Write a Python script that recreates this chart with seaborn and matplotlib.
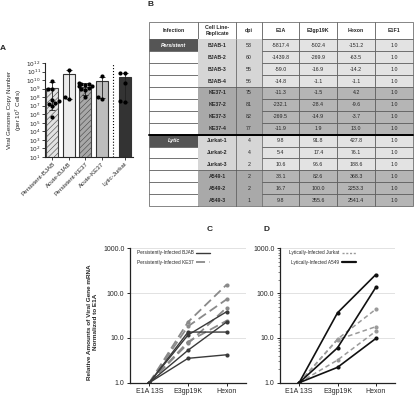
import numpy as np
import pandas as pd
import matplotlib
matplotlib.use("Agg")
import matplotlib.pyplot as plt
from matplotlib.lines import Line2D
import seaborn as sns

sns.set_style("ticks")
plt.rcParams["font.family"] = ["Liberation Sans", "DejaVu Sans"]
plt.rcParams["hatch.linewidth"] = 0.4

# ---- panel A data (log10 copies per 10^7 cells) ----
groups = ["Persistent-BJAB", "Acute-BJAB", "Persistent-KE37", "Acute-KE37", "Lytic-Jurkat"]
group_pos = [0, 1, 2, 3, 4.4]
bar_heights = [1.2e9, 5.0e10, 1.5e9, 8.5e9, 2.5e10]
err_low = [3e6, 6e7, 2e8, 8e7, 3e7]
err_high = [6.5e9, 1.6e11, 5e9, 2.6e10, 6.5e10]
pts_bjab_p = [9.85, 9.0, 8.95, 7.7, 7.55, 7.3, 7.25, 6.95, 5.7]
pts_bjab_a = [11.2, 8.06, 7.75]
pts_ke37_p = [9.7, 9.6, 9.5, 9.4, 9.3, 9.25, 9.1, 9.0, 8.85, 8.05]
pts_ke37_a = [10.45, 8.0, 7.8]
pts_jurkat = [10.8, 10.8, 9.7, 7.5, 7.45]
bar_colors = ["#e2e2e2", "#ececec", "#a8a8a8", "#bdbdbd", "#333333"]
bar_hatch = ["//////", "", "//////", "", ""]

# ---- panel B table ----
col_labels = ["Infection", "Cell Line-\nReplicate", "dpi", "E1A", "E3gp19K", "Hexon", "E1F1"]
infection = ["Persistent", "", "", "", "", "", "", "", "Lytic", "", "", "", "", ""]
cell_lines = ["BJAB-1", "BJAB-2", "BJAB-3", "BJAB-4", "KE37-1", "KE37-2", "KE37-3", "KE37-4",
              "Jurkat-1", "Jurkat-2", "Jurkat-3", "A549-1", "A549-2", "A549-3"]
dpi = [53, 60, 55, 56, 75, 81, 82, 77, 4, 4, 2, 2, 2, 1]
e1a = [-5817.4, -1439.8, -59.0, -14.8, -11.3, -232.1, -269.5, -11.9, 9.8, 5.4, 10.6, 38.1, 16.7, 9.8]
e3gp19k = [-502.4, -269.9, -16.9, -1.1, -1.5, -28.4, -14.9, 1.9, 91.8, 17.4, 96.6, 82.6, 100.0, 355.6]
hexon = [-151.2, -63.5, -14.2, -1.1, 4.2, -9.6, -3.7, 13.0, 427.8, 76.1, 188.6, 368.3, 2253.3, 2541.4]
e1f1 = [1.0] * 14
row_groups = [(0, 3), (4, 7), (8, 10), (11, 13)]
dark_rows = [4, 5, 6, 7, 11, 12, 13]

# ---- panels C / D data (relative to E1A 13S) ----
genes = ["E1A 13S", "E3gp19K", "Hexon"]
bjab_e3 = [11.6, 5.3, 3.5, 13.5]
bjab_hex = [38.5, 22.7, 4.2, 13.5]
ke37_e3 = [7.5, 8.2, 18.1, 22.6]
ke37_hex = [47.5, 24.2, 72.8, 154.7]
jurkat_e3 = [9.4, 3.2, 9.1]
jurkat_hex = [43.7, 14.1, 17.8]
a549_e3 = [2.2, 6.0, 36.3]
a549_hex = [9.7, 134.9, 259.3]

W, H = 419, 403
fig = plt.figure(figsize=(W / 100, H / 100), dpi=100)


def px_axes(x0, y0, x1, y1):
    return fig.add_axes([x0 / W, 1 - y1 / H, (x1 - x0) / W, (y1 - y0) / H])


fs = 4.5

# ================= A =================
axA = px_axes(45, 63, 133, 157)
sns.barplot(x=group_pos, y=bar_heights, native_scale=True, width=0.72, ax=axA,
            color="#cccccc", errorbar=None, edgecolor="#333333", linewidth=0.8)
for p, c, h in zip(axA.patches, bar_colors, bar_hatch):
    p.set_facecolor(c)
    p.set_hatch(h)
    p.set_edgecolor("#444444" if h else "#333333")
axA.set_yscale("log")
axA.set_ylim(10, 1e12)
pts = []
for pos, vals in zip(group_pos, [pts_bjab_p, pts_bjab_a, pts_ke37_p, pts_ke37_a, pts_jurkat]):
    for v in vals:
        pts.append({"pos": pos, "val": 10 ** v})
pts = pd.DataFrame(pts)
axA.errorbar(group_pos, bar_heights,
             yerr=[np.array(bar_heights) - np.array(err_low), np.array(err_high) - np.array(bar_heights)],
             fmt="none", ecolor="#222222", elinewidth=0.6, capsize=2, capthick=0.6, zorder=3)
sns.swarmplot(data=pts, x="pos", y="val", native_scale=True, color="black", size=3.0,
              linewidth=0, ax=axA, zorder=4)
axA.axvline(3.7, ls=":", color="black", lw=0.8)
axA.set_xlim(-0.45, 4.9)
axA.set_ylim(10, 1e12)
axA.set_xticks(group_pos)
axA.set_xticklabels(groups, rotation=45, ha="right", rotation_mode="anchor", fontsize=fs)
decades = list(range(1, 13))
axA.set_yticks([10.0 ** k for k in decades])
axA.set_yticklabels([f"$10^{{{k}}}$" for k in decades], fontsize=fs - 0.3)
axA.yaxis.set_minor_locator(matplotlib.ticker.NullLocator())
axA.set_xlabel("")
axA.set_ylabel("Viral Genome Copy Number\n(per 10$^7$ Cells)", fontsize=fs, labelpad=2)
axA.tick_params(length=2, width=0.6, pad=1)
for s in ["top", "right"]:
    axA.spines[s].set_visible(False)
for s in ["left", "bottom"]:
    axA.spines[s].set_linewidth(0.8)

# ================= B =================
axB = px_axes(149, 21.7, 413, 206)
axB.axis("off")
cell_text = []
cell_colors = []
for i in range(14):
    dark = i in dark_rows
    cell_text.append([infection[i], cell_lines[i], str(dpi[i]), f"{e1a[i]:.1f}",
                      f"{e3gp19k[i]:.1f}", f"{hexon[i]:.1f}", f"{e1f1[i]:.1f}"])
    inf_c = "#555555" if infection[i] else "white"
    lab_c = "#a9a9a9" if dark else "#d6d6d6"
    val_c = "#b5b5b5" if dark else "#e3e3e3"
    cell_colors.append([inf_c, lab_c, lab_c] + [val_c] * 4)
col_w = [49.3, 37.7, 25.7, 37.6, 37.4, 38.3, 37.7]
col_frac = [w / sum(col_w) for w in col_w]
tbl = axB.table(cellText=cell_text, colLabels=col_labels, cellColours=cell_colors,
                colColours=["white"] * 7, colWidths=col_frac,
                cellLoc="center", bbox=[0, 0, 1, 1])
tbl.auto_set_font_size(False)
tbl.set_fontsize(3.8)
hdr_h, row_h = 17.6, 11.8
total_h = hdr_h + 14 * row_h
edge_c = "#555555"
for (r, c), cell in tbl.get_celld().items():
    cell.set_height((hdr_h if r == 0 else row_h) / total_h)
    cell.set_edgecolor(edge_c)
    cell.set_linewidth(0.5)
    txt = cell.get_text()
    if r == 0:
        txt.set_fontweight("bold")
    else:
        i = r - 1
        if c == 0 and infection[i]:
            txt.set_color("white")
            txt.set_fontweight("bold")
            txt.set_fontstyle("italic")
        if c == 1:
            txt.set_fontweight("bold")
        if c in (1, 2):
            cell.set_linewidth(0)
# merged-looking cell line / dpi columns: only group borders
x1 = col_frac[0]
x2 = col_frac[0] + col_frac[1]
x3 = x2 + col_frac[2]
data_top = 14 * row_h / total_h
axB.plot([x2, x2], [0, data_top], color=edge_c, lw=0.5, clip_on=False)
for g0, g1 in row_groups:
    yb = (13 - g1) * row_h / total_h
    axB.plot([x1, x3], [yb, yb], color=edge_c, lw=0.5, clip_on=False)
axB.plot([0, 1], [6 * row_h / total_h] * 2, color="black", lw=1.4, clip_on=False)
axB.set_xlim(0, 1)
axB.set_ylim(0, 1)

# ================= C / D =================


def long_frame(e3_vals, hex_vals):
    rows = []
    for k, (a, b) in enumerate(zip(e3_vals, hex_vals)):
        for pos, v in zip([0, 1, 2], [1.0, a, b]):
            rows.append({"rep": k, "pos": pos, "val": v})
    return pd.DataFrame(rows)


def style_line_axes(ax, minor):
    ax.set_yscale("log")
    ax.set_ylim(1, 1000)
    ax.set_xlim(-0.5, 2.5)
    ax.set_xticks([0, 1, 2])
    ax.set_xticklabels(genes, fontsize=5)
    ax.set_yticks([1, 10, 100, 1000])
    ax.set_yticklabels(["1.0", "10.0", "100.0", "1000.0"], fontsize=5)
    if not minor:
        ax.yaxis.set_minor_locator(matplotlib.ticker.NullLocator())
    else:
        ax.tick_params(axis="y", which="minor", length=1.2, width=0.4)
        ax.yaxis.set_minor_formatter(matplotlib.ticker.NullFormatter())
    ax.yaxis.grid(True, which="major", color="#dddddd", lw=0.6)
    ax.set_axisbelow(True)
    ax.set_xlabel("")
    ax.tick_params(which="major", length=2.5, width=0.7, pad=1.5)
    for s in ["top", "right"]:
        ax.spines[s].set_visible(False)
    for s in ["left", "bottom"]:
        ax.spines[s].set_linewidth(0.9)
        ax.spines[s].set_color("#222222")


axC = px_axes(130, 248.3, 246, 382.7)
axC.set_yscale("log")
sns.lineplot(data=long_frame(ke37_e3, ke37_hex), x="pos", y="val", units="rep", estimator=None,
             color="#8a8a8a", lw=1.3, dashes=False, ax=axC, linestyle=(0, (5, 2.5)),
             marker="o", markersize=3, markeredgewidth=0)
sns.lineplot(data=long_frame(bjab_e3, bjab_hex), x="pos", y="val", units="rep", estimator=None,
             color="#3a3a3a", lw=1.0, ax=axC, marker="o", markersize=3, markeredgewidth=0)
style_line_axes(axC, minor=False)
axC.set_ylabel("Relative Amounts of Viral Gene mRNA\nNormalized to E1A", fontsize=4.6,
               fontweight="bold")
axC.yaxis.set_label_coords(-0.28, 0.45)
hC = [Line2D([], [], color="#3a3a3a", lw=1.0), Line2D([], [], color="#8a8a8a", lw=1.3, ls=(0, (5, 2.5)))]
axC.legend(hC, ["Persistently-Infected BJAB", "Persistently-Infected KE37"], loc="upper left",
           bbox_to_anchor=(0.04, 1.0), borderaxespad=0, frameon=False, markerfirst=False,
           fontsize=3.4, handlelength=3, labelspacing=1.0, handletextpad=0.6)

axD = px_axes(280, 248.3, 395, 382.7)
axD.set_yscale("log")
sns.lineplot(data=long_frame(jurkat_e3, jurkat_hex), x="pos", y="val", units="rep", estimator=None,
             color="#9a9a9a", lw=1.1, ax=axD, linestyle=(0, (3, 2)),
             marker="o", markersize=3, markeredgewidth=0)
sns.lineplot(data=long_frame(a549_e3, a549_hex), x="pos", y="val", units="rep", estimator=None,
             color="#111111", lw=1.2, ax=axD, marker="o", markersize=3, markeredgewidth=0)
style_line_axes(axD, minor=True)
axD.set_ylabel("")
hD = [Line2D([], [], color="#9a9a9a", lw=1.0, ls=(0, (1.5, 1.2))), Line2D([], [], color="#111111", lw=1.6)]
axD.legend(hD, ["Lytically-Infected Jurkat", "Lytically-Infected A549"], loc="upper left",
           bbox_to_anchor=(0.06, 1.0), borderaxespad=0, frameon=False, markerfirst=False,
           fontsize=3.4, handlelength=3, labelspacing=1.0, handletextpad=0.6)

# panel letters
for letter, x, y in [("A", 0, 49), ("B", 147, 5), ("C", 207, 230), ("D", 263, 230)]:
    fig.text(x / W, 1 - y / H, letter, fontsize=6, fontweight="bold", va="center", ha="left")

fig.savefig("out.png", dpi=100)
